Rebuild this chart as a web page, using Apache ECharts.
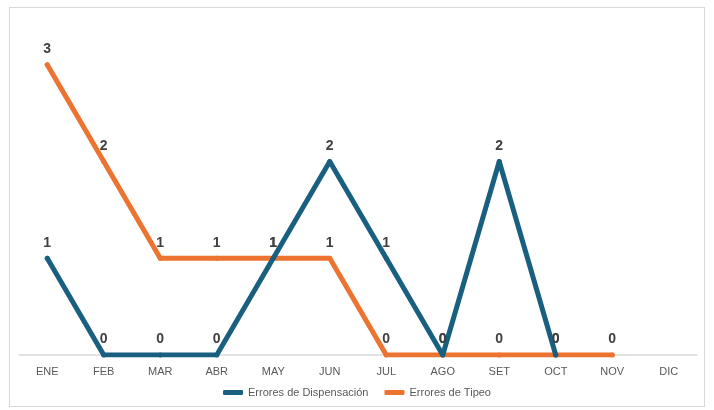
<!DOCTYPE html>
<html>
<head>
<meta charset="utf-8">
<script src="https://cdn.jsdelivr.net/npm/echarts@6/dist/echarts.min.js"></script>
<style>
  html, body { margin: 0; padding: 0; background: #fff; }
  #frame { position: absolute; left: 9px; top: 7px; width: 696px; height: 400px; border: 1px solid #d9d9d9; box-sizing: border-box; }
  #chart { position: absolute; left: 0; top: 0; width: 714px; height: 410px; }
</style>
</head>
<body>
<div id="frame"></div>
<div id="chart"></div>
<script>
// Monthly error counts
const months = ['ENE', 'FEB', 'MAR', 'ABR', 'MAY', 'JUN', 'JUL', 'AGO', 'SET', 'OCT', 'NOV', 'DIC'];
const dispensacion = [1, 0, 0, 0, 1, 2, 1, 0, 2, 0, null, null];
const tipeo = [3, 2, 1, 1, 1, 1, 0, 0, 0, 0, 0, null];
const seriesNames = ['Errores de Dispensación', 'Errores de Tipeo'];

const BLUE = '#195f80';
const ORANGE = '#ed7330';
const FONT = 'Liberation Sans, Arial, sans-serif';

const chart = echarts.init(document.getElementById('chart'));
const labelStyle = {
  show: true,
  position: 'top',
  distance: 6,
  color: '#404040',
  fontFamily: FONT,
  fontWeight: 'bold',
  fontSize: 14
};
chart.setOption({
  animation: false,
  grid: { left: 19, right: 17, top: 16.5, bottom: 55, containLabel: false },
  legend: {
    bottom: 7,
    left: 'center',
    icon: 'roundRect',
    itemWidth: 20,
    itemHeight: 5,
    itemGap: 16,
    itemStyle: {},
    textStyle: { color: '#595959', fontSize: 11, fontFamily: FONT },
    data: seriesNames
  },
  xAxis: {
    type: 'category',
    data: months,
    boundaryGap: true,
    axisLine: { lineStyle: { color: '#d9d9d9', width: 1.5 } },
    axisTick: { show: false },
    axisLabel: { color: '#595959', fontSize: 11, margin: 11, fontFamily: FONT }
  },
  yAxis: {
    type: 'value',
    min: 0,
    max: 3.5,
    show: false,
    splitLine: { show: false }
  },
  series: [
    {
      name: seriesNames[1],
      type: 'line',
      data: tipeo,
      z: 2,
      color: ORANGE,
      symbol: 'circle',
      symbolSize: 5,
      itemStyle: { color: ORANGE },
      lineStyle: { width: 5, cap: 'round', join: 'round', color: ORANGE },
      label: labelStyle
    },
    {
      name: seriesNames[0],
      type: 'line',
      data: dispensacion,
      z: 3,
      color: BLUE,
      symbol: 'circle',
      symbolSize: 5,
      itemStyle: { color: BLUE },
      lineStyle: { width: 5, cap: 'round', join: 'round', color: BLUE },
      label: labelStyle
    }
  ]
});
</script>
</body>
</html>
